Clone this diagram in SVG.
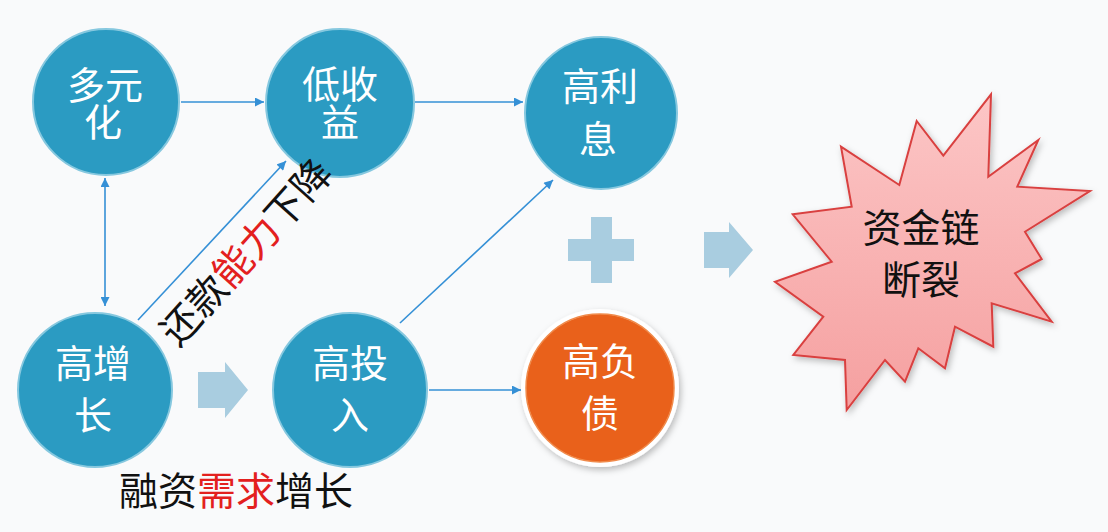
<svg xmlns="http://www.w3.org/2000/svg" width="1108" height="532" viewBox="0 0 1108 532">
<defs>
<style>
.node{fill:#2B9BC2;stroke:#86C8DF;stroke-width:2}
.ntxt{font-family:"Noto Sans CJK SC","Noto Sans",sans-serif;font-size:38px;fill:#FFFFFF;text-anchor:middle;dominant-baseline:central}
.btxt{font-family:"Noto Sans CJK SC","Noto Sans",sans-serif;font-size:39px;fill:#111111;text-anchor:middle;dominant-baseline:central}
.red{fill:#E3201E}
.conn{stroke:#3590D6;stroke-width:1.6;fill:none}
.block{fill:#A9CDE0}
</style>
<marker id="ah" viewBox="0 0 10 10" refX="10" refY="5" markerWidth="10" markerHeight="9" markerUnits="userSpaceOnUse" orient="auto-start-reverse">
<path d="M0,0 L10,5 L0,10 z" fill="#3590D6"/>
</marker>
<linearGradient id="starg" x1="0" y1="0" x2="0" y2="1">
<stop offset="0" stop-color="#FCC6C6"/>
<stop offset="1" stop-color="#F5A0A0"/>
</linearGradient>
<filter id="sh" x="-20%" y="-20%" width="140%" height="140%">
<feDropShadow dx="2" dy="3" stdDeviation="3" flood-color="#000" flood-opacity="0.25"/>
</filter>
</defs>
<rect width="1108" height="532" fill="#F9FAFB"/>

<g id="connectors">
<line class="conn" x1="181" y1="102" x2="264" y2="102" marker-end="url(#ah)"/>
<line class="conn" x1="415" y1="102" x2="523" y2="102" marker-end="url(#ah)"/>
<line class="conn" x1="429" y1="390" x2="521" y2="390" marker-end="url(#ah)"/>
<line class="conn" x1="400" y1="323" x2="553" y2="180" marker-end="url(#ah)"/>
<line class="conn" x1="138" y1="320" x2="286" y2="161" marker-end="url(#ah)"/>
<line class="conn" x1="105" y1="178" x2="105" y2="306" marker-start="url(#ah)" marker-end="url(#ah)"/>
</g>

<g id="n-duoyuanhua">
<circle class="node" cx="106" cy="102" r="73"/>
<text class="ntxt"><tspan x="105" y="82">多元</tspan><tspan x="103" y="119">化</tspan></text>
</g>
<g id="n-dishouyi">
<circle class="node" cx="340" cy="103" r="74"/>
<text class="ntxt"><tspan x="340" y="81">低收</tspan><tspan x="340" y="119">益</tspan></text>
</g>
<g id="n-gaolixi">
<circle class="node" cx="601" cy="113" r="76"/>
<text class="ntxt"><tspan x="600" y="83">高利</tspan><tspan x="598" y="136">息</tspan></text>
</g>
<g id="n-gaozengzhang">
<circle class="node" cx="95" cy="390" r="77"/>
<text class="ntxt"><tspan x="93" y="360">高增</tspan><tspan x="93" y="412">长</tspan></text>
</g>
<g id="n-gaotouru">
<circle class="node" cx="350" cy="390" r="77"/>
<text class="ntxt"><tspan x="350" y="360">高投</tspan><tspan x="350" y="412">入</tspan></text>
</g>
<g id="n-gaofuzhai">
<circle cx="600" cy="388" r="79" fill="#FFFFFF" filter="url(#sh)"/>
<circle cx="600" cy="388" r="74" fill="#E9611B" stroke="#F08A4A" stroke-width="1.5"/>
<text class="ntxt"><tspan x="600" y="358">高负</tspan><tspan x="600" y="410">债</tspan></text>
</g>

<g id="block-arrow-1">
<path class="block" d="M198,372 L225,372 L225,362 L248,390 L225,418 L225,408 L198,408 z"/>
</g>
<g id="plus">
<path class="block" d="M591,217 L612,217 L612,239 L634,239 L634,261 L612,261 L612,283 L591,283 L591,261 L568,261 L568,239 L591,239 z"/>
</g>
<g id="block-arrow-2">
<path class="block" d="M704,232 L729,232 L729,222 L753,250 L729,278 L729,268 L704,268 z"/>
</g>

<g id="n-zijinlianduanlie">
<polygon points="916.7,121 943.3,155.7 991,94.3 988.3,176.7 1038.3,140 1017.3,186.7 1090,191 1025,231.7 1041.7,259 1015,273.3 1051.7,321.7 991.7,303.3 993.3,346.7 955,326.7 945,368.3 918.3,348.3 905,381.7 885,360 846.7,410 845,360 793.3,355 823.3,316.7 775,281.7 831.7,261.7 792.7,214.3 851.7,206.7 841,146.7 899.3,185" fill="url(#starg)" stroke="#D9403F" stroke-width="2" stroke-linejoin="miter" filter="url(#sh)"/>
<text class="btxt" font-size="40"><tspan x="921" y="225">资金链</tspan><tspan x="921" y="277">断裂</tspan></text>
</g>

<g id="label-huankuan">
<text class="btxt" transform="translate(244,250) rotate(-48)" x="0" y="0">还款<tspan class="red">能力</tspan>下降</text>
</g>
<g id="label-rongzi">
<text class="btxt" x="236" y="488">融资<tspan class="red">需求</tspan>增长</text>
</g>
</svg>
